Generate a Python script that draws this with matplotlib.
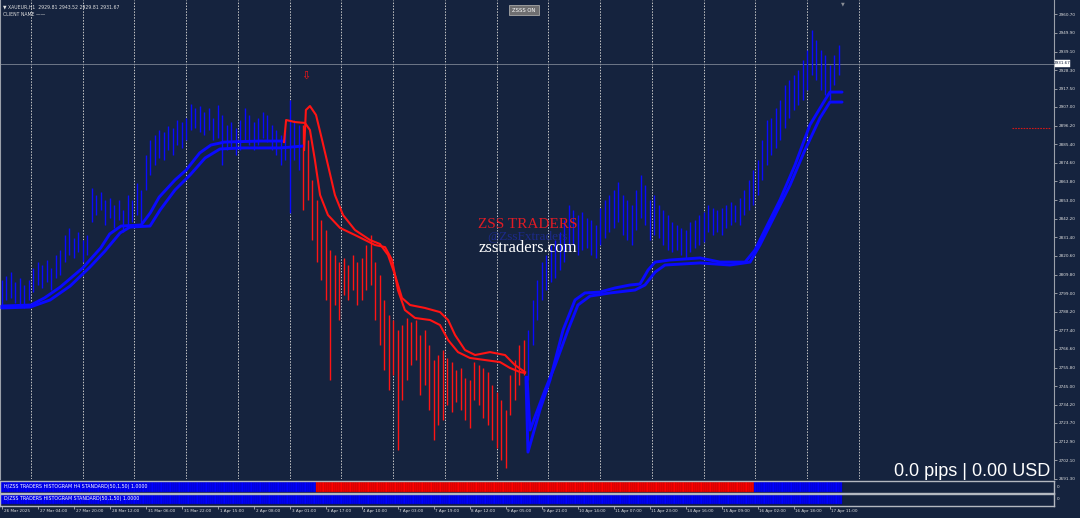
import matplotlib
matplotlib.use("Agg")
import matplotlib.pyplot as plt
from matplotlib.patches import Rectangle
from matplotlib.transforms import blended_transform_factory
import numpy as np

BG = "#15233e"
BLUE = "#0a0aff"
RED = "#ff1414"
GRID = "#c8c8c8"

# price scale on the right
price_ticks = [2960.70, 2949.90, 2939.10, 2928.30, 2917.50, 2907.00, 2896.20,
               2885.40, 2874.60, 2863.80, 2853.00, 2842.20, 2831.40, 2820.60,
               2809.80, 2799.00, 2788.20, 2777.40, 2766.60, 2755.80, 2745.00,
               2734.20, 2723.70, 2712.90, 2702.10, 2691.30]

# time axis, one label every 16 H1 bars
time_labels = ["26 Mar 2025", "27 Mar 04:00", "27 Mar 20:00", "28 Mar 12:00",
               "31 Mar 06:00", "31 Mar 22:00", "1 Apr 15:00", "2 Apr 08:00",
               "3 Apr 01:00", "3 Apr 17:00", "4 Apr 10:00", "7 Apr 03:00",
               "7 Apr 19:00", "8 Apr 12:00", "9 Apr 05:00", "9 Apr 21:00",
               "10 Apr 14:00", "11 Apr 07:00", "11 Apr 23:00", "14 Apr 16:00",
               "15 Apr 09:00", "16 Apr 02:00", "16 Apr 18:00", "17 Apr 11:00"]
label_bars = [0, 16, 32, 48, 64, 80, 96, 112, 128, 144, 160, 176,
              192, 208, 224, 240, 256, 272, 288, 304, 320, 336, 352, 368]

# day separators (bar index)
day_sep = [13, 36, 59, 82, 105, 128, 151, 174, 197, 220, 243, 266,
           289, 312, 335, 358, 381]

# price bars, every 2nd H1 bar
BAR_STEP = 2
bar_high = [
    2806.6, 2808.9, 2811.2, 2805.4, 2807.8, 2803.7, 2806.6, 2813.6, 2817.0, 2815.3,
    2818.2, 2813.6, 2821.1, 2824.0, 2832.7, 2836.8, 2831.0, 2834.4, 2829.8, 2832.7,
    2860.0, 2855.9, 2857.6, 2853.0, 2854.2, 2850.1, 2853.0, 2847.2, 2855.9, 2853.0,
    2862.9, 2858.8, 2879.1, 2887.8, 2890.7, 2893.6, 2892.4, 2895.9, 2894.8, 2899.4,
    2898.2, 2900.6, 2908.7, 2906.4, 2907.5, 2904.0, 2906.4, 2900.6, 2908.1, 2902.3,
    2896.5, 2898.2, 2894.8, 2899.4, 2906.4, 2902.3, 2898.2, 2900.6, 2904.0, 2902.3,
    2896.5, 2893.6, 2890.7, 2893.6, 2911.0, 2899.4, 2896.5, 2896.5, 2887.8, 2864.6,
    2853.0, 2841.4, 2835.6, 2824.0, 2821.1, 2817.0, 2819.4, 2815.3, 2821.1, 2817.0,
    2819.4, 2826.9, 2832.7, 2817.0, 2809.5, 2795.0, 2786.3, 2783.4, 2777.6, 2780.5,
    2784.6, 2782.2, 2783.4, 2774.7, 2777.6, 2768.9, 2760.2, 2763.1, 2766.0, 2761.4,
    2759.0, 2754.4, 2755.6, 2749.8, 2748.6, 2759.0, 2757.3, 2755.6, 2753.2, 2745.7,
    2741.6, 2737.0, 2731.2, 2751.5, 2760.2, 2768.9, 2771.8, 2777.6, 2795.0, 2806.6,
    2817.0, 2821.1, 2826.9, 2829.8, 2834.4, 2841.4, 2850.1, 2847.2, 2844.3, 2846.0,
    2842.6, 2841.4, 2838.5, 2848.4, 2853.0, 2855.9, 2858.8, 2863.4, 2855.9, 2853.0,
    2850.1, 2858.8, 2867.5, 2861.7, 2853.0, 2855.9, 2850.1, 2847.2, 2844.3, 2840.2,
    2838.5, 2836.8, 2835.6, 2840.2, 2841.4, 2844.3, 2846.0, 2850.1, 2848.4, 2847.2,
    2848.4, 2850.1, 2851.8, 2850.1, 2854.2, 2858.8, 2864.6, 2870.4, 2876.2, 2887.8,
    2899.4, 2900.6, 2906.4, 2911.0, 2919.7, 2922.6, 2925.5, 2928.4, 2934.2, 2940.0,
    2951.6, 2945.8, 2940.0, 2937.1, 2931.3, 2937.1, 2942.9]
bar_low = [
    2792.1, 2795.0, 2796.2, 2793.3, 2791.5, 2790.4, 2795.0, 2799.6, 2803.7, 2802.0,
    2805.4, 2800.8, 2807.8, 2809.5, 2817.0, 2821.1, 2819.4, 2822.8, 2817.0, 2821.1,
    2840.2, 2844.3, 2847.2, 2838.5, 2842.6, 2836.8, 2841.4, 2834.4, 2838.5, 2840.2,
    2844.3, 2838.5, 2858.8, 2867.5, 2873.3, 2877.4, 2876.2, 2882.0, 2879.1, 2884.9,
    2883.2, 2887.8, 2893.6, 2894.8, 2892.4, 2890.7, 2893.6, 2887.8, 2889.0, 2873.3,
    2882.0, 2883.2, 2879.1, 2882.0, 2887.8, 2884.9, 2882.0, 2884.9, 2889.0, 2886.6,
    2882.0, 2879.1, 2873.3, 2876.2, 2845.5, 2876.2, 2870.4, 2847.2, 2853.0, 2829.8,
    2817.0, 2806.6, 2795.0, 2748.6, 2792.1, 2783.4, 2797.9, 2795.0, 2800.8, 2792.1,
    2795.0, 2800.8, 2803.7, 2783.4, 2768.9, 2754.4, 2742.8, 2751.5, 2708.0, 2737.0,
    2748.6, 2757.3, 2760.2, 2739.9, 2745.7, 2731.2, 2713.8, 2722.5, 2725.4, 2734.1,
    2730.0, 2735.8, 2731.2, 2725.4, 2720.8, 2737.0, 2734.1, 2726.6, 2722.5, 2713.8,
    2709.2, 2702.2, 2697.6, 2728.3, 2737.0, 2745.7, 2751.5, 2748.6, 2768.9, 2783.4,
    2795.0, 2800.8, 2805.4, 2807.8, 2812.4, 2817.0, 2824.0, 2826.9, 2821.1, 2824.0,
    2825.2, 2821.1, 2819.4, 2826.9, 2831.0, 2834.4, 2836.8, 2840.2, 2832.7, 2829.8,
    2826.9, 2835.6, 2842.6, 2838.5, 2829.8, 2832.7, 2831.0, 2826.9, 2824.0, 2822.8,
    2824.0, 2821.1, 2819.4, 2822.8, 2825.2, 2826.9, 2828.6, 2834.4, 2832.7, 2834.4,
    2832.7, 2836.8, 2838.5, 2840.2, 2838.5, 2844.3, 2847.2, 2850.1, 2855.9, 2864.6,
    2873.3, 2879.1, 2883.2, 2887.8, 2894.8, 2900.6, 2905.2, 2908.1, 2911.0, 2916.8,
    2925.5, 2922.6, 2916.8, 2913.9, 2911.0, 2919.7, 2925.5]
red_bars = (133, 232)       # bars painted red by the trend filter

# trend bands (bar index, price)
blue_fast1_x = [0, 13, 19, 26, 36, 44, 48, 53, 62, 66, 70, 77, 82, 88, 93, 99, 115, 125]
blue_fast1_y = [2791.5, 2792.1, 2796.2, 2802.5, 2813.6, 2825.2, 2833.3, 2837.9, 2838.5, 2845.5,
                2854.7, 2864.6, 2870.4, 2880.3, 2884.9, 2886.6, 2887.2, 2887.2]
blue_slow1_x = [0, 12.6, 21.5, 30.4, 39.2, 45.9, 52.6, 57.0, 65.9, 70.4, 77.0, 83.7, 90.4,
                97.0, 105.9, 123.7, 134.0]
blue_slow1_y = [2790.4, 2790.9, 2795.0, 2803.1, 2814.1, 2823.4, 2833.9, 2837.3, 2837.9, 2847.2,
                2858.8, 2867.5, 2877.4, 2882.6, 2883.2, 2883.2, 2884.3]
red_fast_x = [125.5, 126.4, 130.4, 134.8, 137.0, 139.2, 141.5, 145.0, 150.4, 157.0, 161.5,
              165.9, 170.4, 173.5, 176.1, 179.2, 183.7, 190.4, 194.8, 198.4, 202.8, 208.1,
              214.8, 221.5, 225.9, 230.4, 232.6]
red_fast_y = [2886.6, 2899.4, 2898.2, 2897.7, 2893.6, 2876.2, 2855.9, 2844.3, 2836.8, 2832.7,
              2829.8, 2826.9, 2825.7, 2818.2, 2800.8, 2789.2, 2784.6, 2783.4, 2780.5, 2771.8,
              2764.8, 2761.4, 2760.2, 2759.0, 2755.6, 2753.2, 2752.7]
red_slow_x = [134.4, 135.2, 137.0, 139.7, 142.4, 145.0, 148.1, 151.7, 157.0, 163.7, 168.1,
              171.7, 174.8, 177.9, 181.5, 188.1, 194.8, 198.4, 201.5, 205.9, 210.4, 217.0,
              223.7, 228.1, 232.6]
red_slow_y = [2882.0, 2905.2, 2907.5, 2902.3, 2887.8, 2873.3, 2855.9, 2844.3, 2835.6, 2829.8,
              2827.5, 2821.1, 2809.5, 2796.2, 2792.1, 2790.4, 2788.0, 2783.4, 2774.7, 2766.0,
              2763.1, 2764.8, 2763.1, 2757.3, 2753.2]
blue_fast2_x = [233.0, 233.9, 239.2, 243.7, 249.5, 254.8, 259.2, 265.9, 272.6, 279.2, 283.7,
                287.3, 290.4, 297.0, 310.4, 319.2, 330.4, 334.8, 339.2, 345.9, 352.6, 359.2,
                365.9, 368.1, 373.5]
blue_fast2_y = [2750.3, 2706.8, 2731.2, 2748.6, 2777.6, 2795.0, 2799.1, 2799.6, 2802.0, 2803.7,
                2804.3, 2812.4, 2817.0, 2818.2, 2819.4, 2817.0, 2817.0, 2824.0, 2835.6, 2853.0,
                2873.3, 2896.5, 2911.0, 2915.6, 2915.6]
blue_slow2_x = [233.5, 234.8, 241.5, 246.0, 251.7, 256.1, 261.5, 270.4, 281.5, 285.9, 290.4,
                294.8, 310.4, 323.7, 332.6, 337.0, 343.7, 350.4, 357.0, 363.7, 368.1, 373.5]
blue_slow2_y = [2750.3, 2719.6, 2742.8, 2757.3, 2777.6, 2792.1, 2797.3, 2799.1, 2800.8, 2803.7,
                2811.2, 2815.3, 2816.5, 2815.3, 2817.0, 2826.9, 2844.3, 2861.7, 2882.0, 2900.6,
                2909.8, 2909.8]

# histogram windows (value 1.0 on every bar, colour = state)
n_bars = 374
h4_red = (140, 334)
last_price = 2931.67
alert_price = 2894.8

W, H = 1080, 518
fig = plt.figure(figsize=(W / 100, H / 100), dpi=100, facecolor=BG)


def px_axes(x0, y0, x1, y1):
    return fig.add_axes([x0 / W, 1 - y1 / H, (x1 - x0) / W, (y1 - y0) / H])


def fx(x):
    return x / W


def fy(y):
    return 1 - y / H


XLIM = (-0.76, 467.7)

ax = px_axes(0, 0, 1054, 479)
ax.set_facecolor(BG)
ax.set_xlim(*XLIM)
ax.set_ylim(2691.2, 2969.0)
for s in ["top", "bottom"]:
    ax.spines[s].set_visible(False)
for s in ["left", "right"]:
    ax.spines[s].set_color("#9aa0aa")
    ax.spines[s].set_linewidth(0.8)
ax.set_xticks([])
ax.yaxis.tick_right()
ax.set_yticks(price_ticks)
ax.set_yticklabels([f"{p:.2f}" for p in price_ticks])
ax.tick_params(axis="y", length=2, width=0.5, color="#c8c8c8", labelsize=3,
               labelcolor="#e0e0e0", pad=1.5)

for d in day_sep:
    ax.axvline(d, color=GRID, lw=0.7, ls=(0, (1.5, 1.5)), zorder=1)

ax.axhline(last_price, color="#7d8594", lw=0.6, zorder=1)

pos = np.arange(len(bar_high)) * BAR_STEP
cols = [RED if red_bars[0] <= p <= red_bars[1] else BLUE for p in pos]
ax.vlines(pos, bar_low, bar_high, colors=cols, lw=1.0, zorder=2)

kw = dict(lw=2.1, solid_capstyle="round", solid_joinstyle="round", zorder=3)
ax.plot(blue_fast1_x, blue_fast1_y, color=BLUE, **kw)
ax.plot(blue_slow1_x, blue_slow1_y, color=BLUE, **kw)
ax.plot(blue_fast2_x, blue_fast2_y, color=BLUE, **kw)
ax.plot(blue_slow2_x, blue_slow2_y, color=BLUE, **kw)
ax.plot(red_fast_x, red_fast_y, color=RED, lw=1.5, zorder=3)
ax.plot(red_slow_x, red_slow_y, color=RED, lw=1.5, zorder=3)

ax.text(135.2, 2924.9, "\u21e9", color=RED, fontsize=8, ha="center", va="center")
ax.plot([449, 466.5], [alert_price, alert_price], color="#d01818", lw=0.8,
        ls=(0, (1.5, 1)))

# histogram windows
win_specs = [(481, 493, h4_red, "H/ZSS TRADERS HISTOGRAM H4 STANDARD(50,1,50) 1.0000"),
             (493.5, 505.5, None, "D/ZSS TRADERS HISTOGRAM STANDARD(50,1,50) 1.0000")]
idx = np.arange(n_bars)
for y0, y1, red_rng, title in win_specs:
    w = px_axes(0, y0, 1054, y1)
    w.set_facecolor(BG)
    w.set_xlim(*XLIM)
    w.set_ylim(-0.12, 1.12)
    if red_rng:
        c = ["#ff0000" if red_rng[0] <= i <= red_rng[1] else "#0000ff" for i in idx]
        e = ["#a00000" if red_rng[0] <= i <= red_rng[1] else "#0000a8" for i in idx]
    else:
        c = ["#0000ff"] * n_bars
        e = ["#0000a8"] * n_bars
    w.bar(idx, np.ones(n_bars), width=1.0, bottom=0, color=c, edgecolor=e, linewidth=0.3)
    for s in w.spines.values():
        s.set_color("#b4b8c0")
        s.set_linewidth(1.0)
    w.set_yticks([])
    w.set_xticks([])
    w.text(0.004, 0.55, title, transform=w.transAxes, color="white", fontsize=3.4,
           va="center", ha="left")
    fig.text(fx(1057), fy((y0 + y1) / 2), "0", color="#e0e0e0", fontsize=3,
             va="center", ha="left")
    last = w

last.set_xticks(label_bars)
last.tick_params(axis="x", length=2, width=0.5, color="#c8c8c8", labelbottom=False)
tr = blended_transform_factory(last.transData, last.transAxes)
for b, lab in zip(label_bars, time_labels):
    last.text(b + 0.8, -0.45, lab, transform=tr, color="#e0e0e0", fontsize=3,
              ha="left", va="center")

# header and overlays
fig.text(fx(3), fy(7), "\u25bc XAUEUR,H1  2929.81 2943.52 2929.81 2931.67",
         color="#e0e0e0", fontsize=3.3, va="center")
fig.text(fx(3), fy(15), "CLIENT NAME \u2014\u2014", color="#e0e0e0", fontsize=3.3,
         va="center")
fig.patches.append(Rectangle((fx(509), fy(15)), (539 - 509) / W, 10 / H,
                             transform=fig.transFigure, facecolor="#6e6e70",
                             edgecolor="#a8a8a8", lw=0.6))
fig.text(fx(524), fy(10), "ZSSS ON", color="white", fontsize=3.8, ha="center",
         va="center")
fig.text(fx(843), fy(4), "\u25bc", color="#8a8e96", fontsize=3.5, ha="center",
         va="center")
fig.patches.append(Rectangle((fx(1055), fy(67)), 15 / W, 7 / H,
                             transform=fig.transFigure, facecolor="white",
                             edgecolor="white", lw=0.3, zorder=5))
fig.text(fx(1062.5), fy(63.5), f"{last_price:.2f}", color="#15233e", fontsize=3,
         ha="center", va="center", zorder=6)

fig.text(fx(528), fy(225), "ZSS TRADERS", color="#e01b24", fontsize=11,
         family="Liberation Serif", ha="center", va="center", zorder=3)
fig.text(fx(528), fy(237), "@ZssFxtraders", color="#1c2a8a", fontsize=9.5,
         family="Liberation Serif", ha="center", va="center", zorder=1)
fig.text(fx(528), fy(248), "zsstraders.com", color="white", fontsize=12,
         family="Liberation Serif", ha="center", va="center", zorder=3)
fig.text(fx(1050), fy(472), "0.0 pips | 0.00 USD", color="white", fontsize=13,
         family="Liberation Sans", ha="right", va="center")

fig.savefig("out.png", dpi=100, facecolor=BG)
